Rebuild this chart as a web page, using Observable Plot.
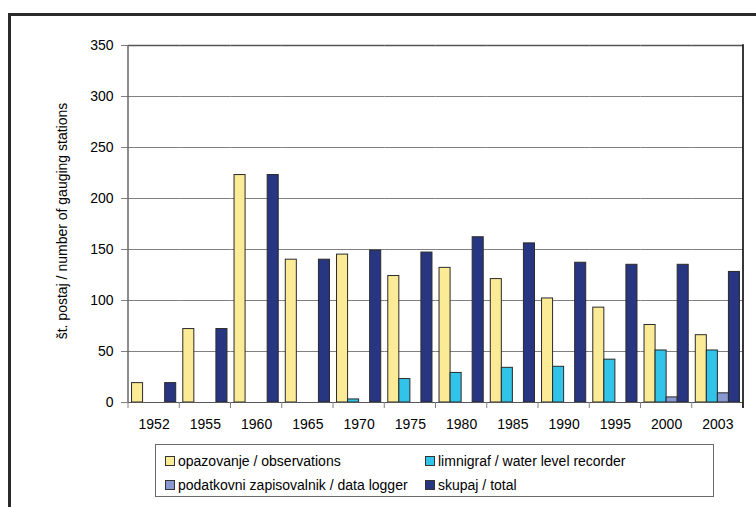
<!DOCTYPE html>
<html>
<head>
<meta charset="utf-8">
<script src="https://cdn.jsdelivr.net/npm/d3@7"></script>
<script src="https://cdn.jsdelivr.net/npm/@observablehq/plot@0.6"></script>
<style>
  html, body { margin: 0; padding: 0; background: #fff; }
  #wrap { position: relative; width: 756px; height: 507px; overflow: hidden; font-family: "Liberation Sans", Arial, sans-serif; }
  #frame { position: absolute; left: 8px; top: 13px; width: 800px; height: 600px;
           border-top: 3px solid #2b2b2b; border-left: 3px solid #2b2b2b; }
  #chart { position: absolute; left: 0; top: 0; }
  #ytitle { position: absolute; left: 62px; top: 221px; transform: translate(-50%, -50%) rotate(-90deg);
            font-size: 14px; white-space: nowrap; color: #000; }
  #legend { position: absolute; left: 155px; top: 444px; width: 557px; height: 51px;
            border: 1px solid #6a6a6a; background: #fff; }
  .item { position: absolute; font-size: 14px; line-height: 16px; color: #000; white-space: nowrap; }
  .sw { display: inline-block; width: 8px; height: 8px; border: 1px solid #333; margin-right: 3px; vertical-align: 0px; }
</style>
</head>
<body>
<div id="wrap">
  <div id="frame"></div>
  <div id="chart"></div>
  <div id="ytitle"></div>
  <div id="legend"></div>
</div>
<script>
// Number of gauging stations by type of measurement, selected years
const years = ["1952", "1955", "1960", "1965", "1970", "1975", "1980", "1985", "1990", "1995", "2000", "2003"];
const observations = [19, 72, 223, 140, 145, 124, 132, 121, 102, 93, 76, 66];
const recorders    = [0, 0, 0, 0, 3, 23, 29, 34, 35, 42, 51, 51];
const loggers      = [0, 0, 0, 0, 0, 0, 0, 0, 0, 0, 5, 9];
const totals       = [19, 72, 223, 140, 149, 147, 162, 156, 137, 135, 135, 128];

const seriesNames = [
  "opazovanje / observations",
  "limnigraf / water level recorder",
  "podatkovni zapisovalnik / data logger",
  "skupaj / total"
];
const seriesColors = ["#fbea96", "#31c4e8", "#8898d0", "#283682"];
const yTicks = [0, 50, 100, 150, 200, 250, 300, 350];
const yTitle = "št. postaj / number of gauging stations";

const columns = [observations, recorders, loggers, totals];
const rows = years.flatMap((year, i) =>
  columns.map((col, j) => ({ year, series: seriesNames[j], value: col[i] }))
).filter(d => d.value > 0);

const chart = Plot.plot({
  width: 756,
  height: 440,
  marginLeft: 128,
  marginRight: 13,
  marginTop: 45,
  marginBottom: 38,
  style: { fontFamily: "'Liberation Sans', Arial, sans-serif", fontSize: "14px", color: "#000", background: "transparent" },
  fx: { domain: years, padding: 0, round: false, label: null, axis: null },
  x: { domain: seriesNames, paddingInner: 0, paddingOuter: 0.32, round: false, axis: null },
  y: { domain: [0, 350] },
  color: { domain: seriesNames, range: seriesColors },
  marks: [
    Plot.gridY(yTicks.filter(t => t > 0 && t < 350), { stroke: "#808080", strokeOpacity: 1, strokeWidth: 1 }),
    Plot.ruleY([350], { stroke: "#555", strokeWidth: 1.5 }),
    Plot.barY(rows, { fx: "year", x: "series", y: "value", fill: "series", stroke: "#2a2a2a", strokeWidth: 1 }),
    Plot.ruleY([0], { stroke: "#555", strokeWidth: 1.2 }),
    Plot.axisY({ ticks: yTicks, tickSize: 7, tickPadding: 8, stroke: "#808080", fontSize: 14, label: null }),
    Plot.axisFx({ anchor: "bottom", tickSize: 0, tickPadding: 17, fontSize: 14, label: null })
  ]
});
document.getElementById("chart").appendChild(chart);
document.getElementById("ytitle").textContent = yTitle;

// Category separators, left axis line and right border, placed with Plot's own scales
const fx = chart.scale("fx");
const y = chart.scale("y");
const edges = years.map(yr => fx.apply(yr));
edges.push(fx.apply(years[years.length - 1]) + fx.bandwidth);
const svg = d3.select(chart);
const g = svg.append("g");
const y0 = y.apply(0), yTop = y.apply(350);
g.selectAll("line.sep").data(edges).join("line")
  .attr("x1", d => d).attr("x2", d => d)
  .attr("y1", y0).attr("y2", y0 + 6)
  .attr("stroke", "#808080").attr("stroke-width", 1);
g.append("line")
  .attr("x1", edges[0]).attr("x2", edges[0]).attr("y1", yTop).attr("y2", y0)
  .attr("stroke", "#666").attr("stroke-width", 1.5);
g.append("line")
  .attr("x1", edges[edges.length - 1]).attr("x2", edges[edges.length - 1]).attr("y1", yTop - 0.75).attr("y2", y0 + 6)
  .attr("stroke", "#222").attr("stroke-width", 1.8);

// Legend: two columns, two rows
const legend = document.getElementById("legend");
const slots = [[9, 8], [269, 8], [9, 32], [269, 32]];
seriesNames.forEach((name, i) => {
  const el = document.createElement("div");
  el.className = "item";
  el.style.left = slots[i][0] + "px";
  el.style.top = slots[i][1] + "px";
  const sw = document.createElement("span");
  sw.className = "sw";
  sw.style.background = seriesColors[i];
  el.appendChild(sw);
  el.appendChild(document.createTextNode(name));
  legend.appendChild(el);
});
</script>
</body>
</html>
